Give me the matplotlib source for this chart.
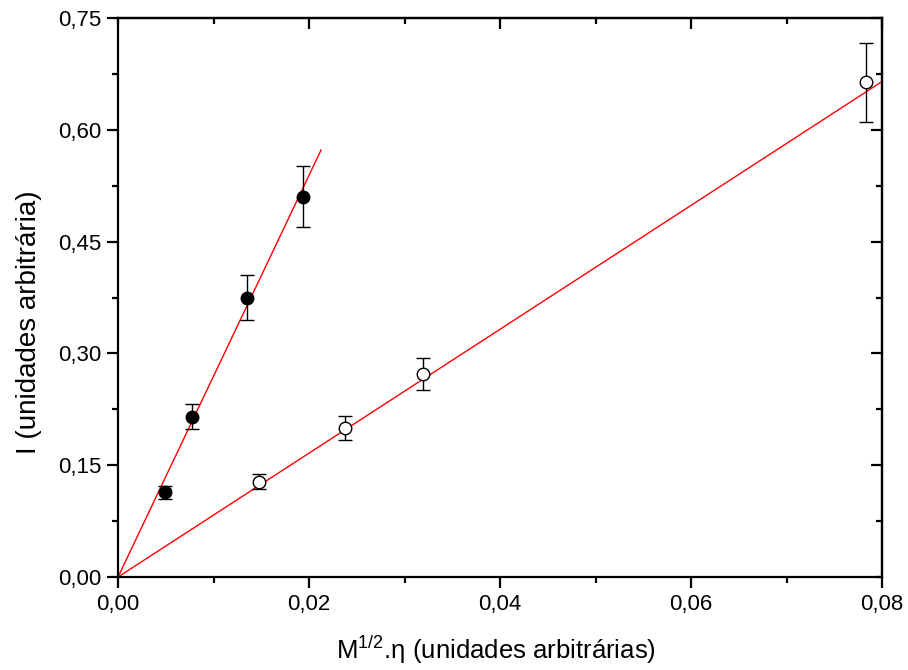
import numpy as np
import matplotlib.pyplot as plt
from matplotlib.ticker import MultipleLocator, FuncFormatter

plt.rcParams['font.family'] = ['Liberation Sans', 'DejaVu Sans']

# filled circles
x_filled = [0.00492, 0.00778, 0.01354, 0.01937]
y_filled = [0.1136, 0.2151, 0.3748, 0.5103]
err_filled = [0.009, 0.017, 0.030, 0.041]

# open circles
x_open = [0.0148, 0.02377, 0.03194, 0.07836]
y_open = [0.1279, 0.2000, 0.2724, 0.6638]
err_open = [0.010, 0.016, 0.022, 0.053]

# fitted lines (slope), x range of each line
slope_filled = 26.95
slope_open = 8.31
xfit_filled = [0, 0.02126]
xfit_open = [0, 0.08]

fig = plt.figure(figsize=(9.08, 6.70), dpi=100)
ax = fig.add_axes([0.13, 0.1388, 0.8414, 0.8343])

xf = np.array(xfit_filled)
xo = np.array(xfit_open)
ax.plot(xf, slope_filled * xf, color='red', lw=1, zorder=1)
ax.plot(xo, slope_open * xo, color='red', lw=1, zorder=1)

ax.errorbar(x_filled, y_filled, yerr=err_filled, fmt='o', color='black',
            mfc='black', mec='black', ms=9, ecolor='black', elinewidth=1,
            capsize=5, capthick=1, zorder=3)
ax.errorbar(x_open, y_open, yerr=err_open, fmt='o', color='black',
            mfc='white', mec='black', ms=9, ecolor='black', elinewidth=1,
            capsize=5, capthick=1, zorder=3)

ax.set_xlim(0, 0.08)
ax.set_ylim(0, 0.75)
ax.xaxis.set_major_locator(MultipleLocator(0.02))
ax.xaxis.set_minor_locator(MultipleLocator(0.01))
ax.yaxis.set_major_locator(MultipleLocator(0.15))
ax.yaxis.set_minor_locator(MultipleLocator(0.075))
comma = FuncFormatter(lambda v, p: ('%.2f' % v).replace('.', ','))
ax.xaxis.set_major_formatter(comma)
ax.yaxis.set_major_formatter(comma)

for s in ax.spines.values():
    s.set_linewidth(1.6)
ax.tick_params(which='major', direction='out', length=8, width=1.6, labelsize=16, pad=4)
ax.tick_params(which='minor', direction='out', length=4, width=1.6)
ax.tick_params(which='both', top=False, right=False)

# inward ticks on top and right
sec_x = ax.secondary_xaxis('top')
sec_x.set_xticks([0.02, 0.04, 0.06, 0.08])
sec_x.xaxis.set_minor_locator(MultipleLocator(0.01))
sec_x.tick_params(which='major', direction='in', length=8, width=1.6, labeltop=False)
sec_x.tick_params(which='minor', direction='in', length=4, width=1.6)
sec_x.spines['top'].set_linewidth(1.6)
sec_y = ax.secondary_yaxis('right')
sec_y.set_yticks([0.15, 0.30, 0.45, 0.60, 0.75])
sec_y.yaxis.set_minor_locator(MultipleLocator(0.075))
sec_y.tick_params(which='major', direction='in', length=8, width=1.6, labelright=False)
sec_y.tick_params(which='minor', direction='in', length=4, width=1.6)
sec_y.spines['right'].set_linewidth(1.6)

ax.set_xlabel(r'M$^{\mathregular{1/2}}$.η (unidades arbitrárias)', fontsize=18.5)
ax.set_ylabel('I (unidades arbitrária)', fontsize=20)
ax.xaxis.set_label_coords(0.494, -0.100)
ax.yaxis.set_label_coords(-0.10, 0.456)

fig.savefig('out.png', dpi=100)
